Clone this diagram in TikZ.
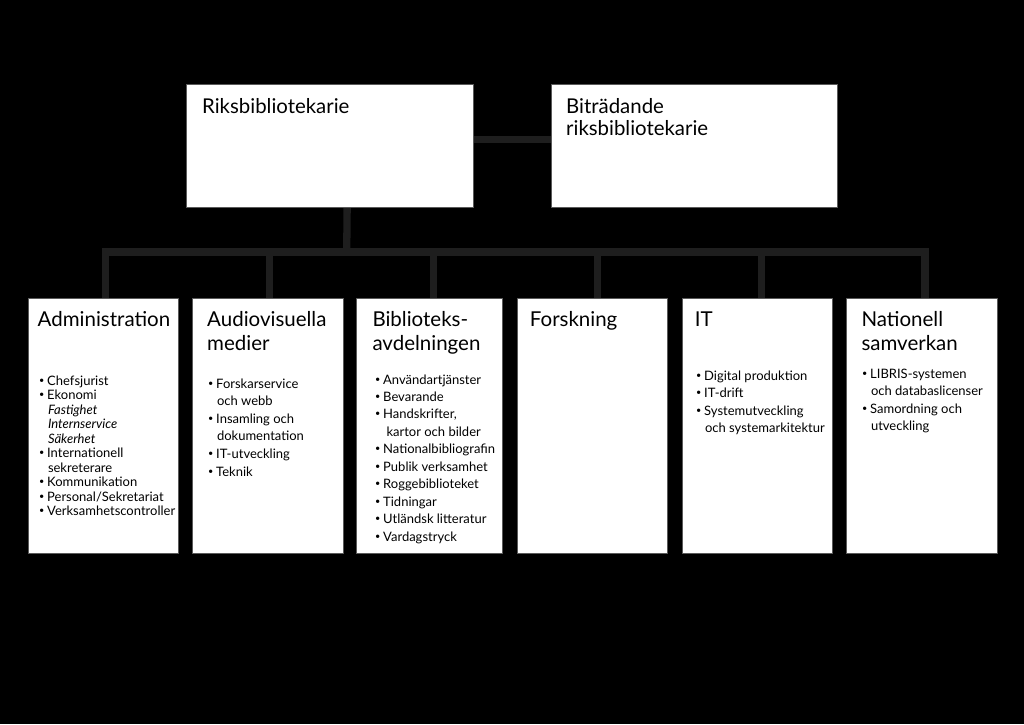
\documentclass[tikz,border=0pt]{standalone}
\usepackage{fontspec}
\usepackage{graphicx}
\setmainfont{Lato}
\pgfdeclarelayer{bg}
\pgfsetlayers{bg,main}
\definecolor{conn}{HTML}{1E1E1E}
\definecolor{edge}{HTML}{5A5A5A}
\newcommand{\bu}[1]{\makebox[8.5pt][l]{\hspace{0.3pt}\raisebox{0.3ex}{\scalebox{0.7}{•}}}{#1}}
\newcommand{\cn}[1]{\hspace*{9.3pt}{#1}}
\newcommand{\blk}[1]{\parbox[t]{170pt}{\raggedright #1}}
\begin{document}
\begin{tikzpicture}[x=1pt,y=-1pt,
  box/.style={draw=edge, line width=0.8pt, fill=white, anchor=north west, inner sep=0pt},
  topbox/.style={box, minimum width=#1, minimum height=122.7pt},
  subbox/.style={box, minimum width=#1, minimum height=254.4pt},
  ttl/.style={anchor=base west, inner sep=0pt, font=\fontsize{20.5}{23.5}\selectfont},
  toptxt/.style={anchor=base west, inner sep=0pt, font=\fontsize{20.4}{22.5}\selectfont},
  lst/.style={anchor=base west, inner sep=0pt, font=\fontsize{13}{#1}\selectfont},
  link/.style={draw=conn, line width=7.3pt}]
\begin{pgfonlayer}{bg}
\fill[black] (0,0) rectangle (1024,724);
\end{pgfonlayer}
\useasboundingbox (0,0) rectangle (1024,724);

% top row
\node[topbox=286.5pt] (riks) at (186,84) {};
\node[topbox=286pt] (bitr) at (551,84) {};
\node[toptxt] (riksT) at (202,113.3) {Riksbibliotekarie};
\node[toptxt] (bitrT) at (566,113.3) {\blk{Biträdande\\riksbibliotekarie}};

% bottom row
\node[subbox=150.5pt] (adm) at (27.5,298.3) {};
\node[subbox=150.2pt] (av) at (192.3,298.3) {};
\node[subbox=146pt] (bib) at (356,298.3) {};
\node[subbox=150pt] (fo) at (516.7,298.3) {};
\node[subbox=150pt] (it) at (681.7,298.3) {};
\node[subbox=150.2pt] (nat) at (846.3,298.3) {};

\node[ttl] (admT) at (37.5,326.7) {Administration};
\node[ttl] (avT) at (207,326.7) {\blk{Audiovisuella\\medier}};
\node[ttl] (bibT) at (372.3,326.7) {\blk{Biblioteks-\\avdelningen}};
\node[ttl] (foT) at (529.7,326.7) {Forskning};
\node[ttl] (itT) at (694.7,326.7) {IT};
\node[ttl] (natT) at (861.3,326.7) {\blk{Nationell\\samverkan}};

\node[lst=14.5] (admL) at (38.5,385) {\blk{\bu{Chefsjurist}\\\bu{Ekonomi}\\\cn{\itshape Fastighet}\\\cn{\itshape Internservice}\\\cn{\itshape Säkerhet}\\\bu{Internationell}\\\cn{sekreterare}\\\bu{Kommunikation}\\\bu{Personal/Sekretariat}\\\bu{Verksamhetscontroller}}};
\node[lst=17.6] (avL) at (207.5,388) {\blk{\bu{Forskarservice}\\\cn{och webb}\\\bu{Insamling och}\\\cn{dokumentation}\\\bu{IT-utveckling}\\\bu{Teknik}}};
\node[lst=17.45] (bibL) at (374.5,384) {\blk{\bu{Användartjänster}\\\bu{Bevarande}\\\bu{Handskrifter,}\\\cn{\hspace*{2.5pt}kartor och bilder}\\\bu{Nationalbibliografin}\\\bu{Publik verksamhet}\\\bu{Roggebiblioteket}\\\bu{Tidningar}\\\bu{Utländsk litteratur}\\\bu{Vardagstryck}}};
\node[lst=17.6] (itL) at (695.5,380) {\blk{\bu{Digital produktion}\\\bu{IT-drift}\\\bu{Systemutveckling}\\\cn{och systemarkitektur}}};
\node[lst=17.6] (natL) at (861.5,378) {\blk{\bu{LIBRIS-systemen}\\\cn{och databaslicenser}\\\bu{Samordning och}\\\cn{utveckling}}};

% connectors
\coordinate (bar) at (346.7,252);
\begin{pgfonlayer}{bg}
\draw[link] ([yshift=6.5pt]riks.east) -- ([yshift=6.5pt]bitr.west);
\draw[link] ([xshift=17.5pt]riks.south) -- (bar);
\draw[link, line cap=rect] ([xshift=2.25pt]adm.north |- bar) -- ([xshift=3.3pt]nat.north |- bar);
\draw[link] ([xshift=2.25pt]adm.north) -- ([xshift=2.25pt]adm.north |- bar);
\draw[link] ([xshift=1.5pt]av.north) -- ([xshift=1.5pt]av.north |- bar);
\draw[link] ([xshift=3.9pt]bib.north) -- ([xshift=3.9pt]bib.north |- bar);
\draw[link] ([xshift=5.1pt]fo.north) -- ([xshift=5.1pt]fo.north |- bar);
\draw[link] ([xshift=4.1pt]it.north) -- ([xshift=4.1pt]it.north |- bar);
\draw[link] ([xshift=3.3pt]nat.north) -- ([xshift=3.3pt]nat.north |- bar);
\end{pgfonlayer}
\end{tikzpicture}
\end{document}
